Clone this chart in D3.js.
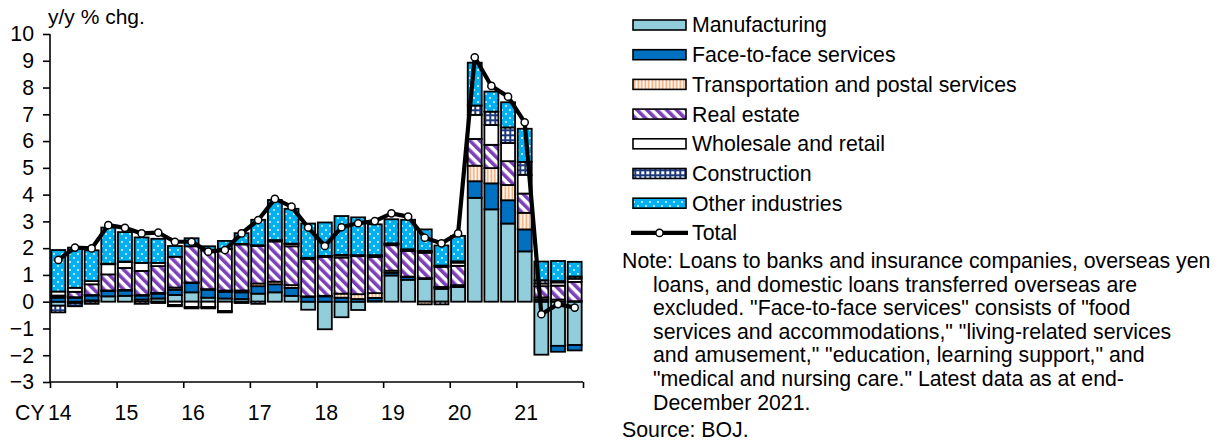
<!DOCTYPE html>
<html>
<head>
<meta charset="utf-8">
<script src="https://cdn.jsdelivr.net/npm/d3@7"></script>
<style>
  html, body { margin: 0; padding: 0; background: #fff; }
  svg { display: block; font-family: "Liberation Sans", Arial, sans-serif; }
</style>
</head>
<body>
<div id="chart"></div>
<script>
// quarterly, CY2014 Q1 .. CY2021 Q4
const years = ['14', '15', '16', '17', '18', '19', '20', '21'];
const quarters = years.flatMap(y => ['Q1', 'Q2', 'Q3', 'Q4'].map(q => y + q));

const manufacturing = [-0.15, -0.05, 0.05, 0.2, 0.22, 0.08, 0.12, 0.25, 0.35, 0.15, 0.12, 0.1, 0.3, 0.35, 0.22, -0.3,
  -1.03, -0.58, -0.31, 0.02, 0.98, 0.82, 0.85, 0.48, 0.55, 3.88, 3.45, 2.92, 1.88, -1.98, -1.65, -1.62];
const faceToFace = [0.15, 0.15, 0.18, 0.2, 0.2, 0.15, 0.18, 0.2, 0.35, 0.3, 0.25, 0.25, 0.28, 0.3, 0.3, 0.18,
  0.2, 0.15, 0.1, 0.12, 0.1, 0.1, 0.03, 0.05, 0.05, 0.62, 0.97, 0.87, 0.82, 0.08, -0.22, -0.2];
const transport = [0.03, 0.02, 0.02, 0.02, 0.02, 0.02, 0.03, 0.08, 0.02, 0.02, 0.05, 0.07, 0.1, 0.1, 0.1, 0.02,
  0.02, 0.15, 0.18, 0.18, 0.08, 0.02, -0.1, 0.02, 0.02, 0.58, 0.57, 0.57, 0.62, 0.08, 0.08, 0.02];
const realEstate = [0.05, 0.2, 0.4, 0.6, 0.82, 0.9, 1.0, 1.15, 1.35, 1.45, 1.55, 1.72, 1.4, 1.5, 1.45, 1.4,
  1.45, 1.35, 1.42, 1.35, 0.95, 0.95, 0.95, 0.75, 0.72, 1.0, 0.87, 0.89, 0.72, 0.42, 0.52, 0.72];
const wholesale = [0.15, 0.15, 0.12, 0.38, 0.22, 0.3, 0.12, -0.12, -0.2, -0.2, -0.35, 0.02, 0.03, 0.03, 0.08, 0.02,
  0.02, 0.08, 0.02, 0.05, 0.05, 0.05, 0.05, 0.05, 0.12, 0.9, 0.74, 0.68, 0.7, 0.1, 0.12, 0.12];
const construction = [-0.25, -0.12, -0.08, 0.02, 0.02, -0.08, -0.05, -0.05, -0.05, -0.05, -0.05, -0.05, -0.08, 0.02, 0.02, 0.02,
  0.02, 0.02, 0.02, 0.02, 0.02, 0.02, 0.02, -0.1, 0.05, 0.35, 0.5, 0.58, 0.48, 0.12, 0.05, 0.08];
const otherInd = [1.55, 1.5, 1.15, 1.35, 1.1, 0.95, 0.9, 0.4, 0.3, 0.15, 0.3, 0.4, 0.95, 1.5, 1.3, 1.28,
  1.25, 1.45, 1.41, 1.15, 0.9, 1.1, 0.8, 0.75, 0.95, 1.6, 0.75, 0.94, 1.24, 0.7, 0.75, 0.55];
const total = [1.56, 2.02, 1.99, 2.86, 2.76, 2.55, 2.58, 2.24, 2.24, 1.87, 1.93, 2.55, 3.05, 3.84, 3.55, 2.77,
  2.08, 2.78, 2.93, 3.01, 3.30, 3.18, 2.39, 2.18, 2.55, 9.13, 8.06, 7.66, 6.70, -0.47, -0.09, -0.22];

const seriesNames = ['Manufacturing', 'Face-to-face services', 'Transportation and postal services',
  'Real estate', 'Wholesale and retail', 'Construction', 'Other industries'];
const seriesValues = [manufacturing, faceToFace, transport, realEstate, wholesale, construction, otherInd];
const seriesFills = ['#92CDDC', '#0070C0', 'url(#pTransport)', 'url(#pRealEstate)', '#FFFFFF', 'url(#pConstruction)', 'url(#pOther)'];

const yTicks = [-3, -2, -1, 0, 1, 2, 3, 4, 5, 6, 7, 8, 9, 10];

const noteLines = [
  'Note: Loans to banks and insurance companies, overseas yen',
  'loans, and domestic loans transferred overseas are',
  'excluded. "Face-to-face services" consists of "food',
  'services and accommodations," "living-related services',
  'and amusement," "education, learning support," and',
  '"medical and nursing care." Latest data as at end-',
  'December 2021.'
];

const W = 1226, H = 443;
const plot = { left: 50, right: 583, top: 34, bottom: 382 };

const svg = d3.select('#chart').append('svg')
  .attr('width', W).attr('height', H);

// fill patterns
const defs = svg.append('defs');

const pT = defs.append('pattern').attr('id', 'pTransport')
  .attr('patternUnits', 'userSpaceOnUse').attr('width', 3.5).attr('height', 4);
pT.append('rect').attr('width', 3.5).attr('height', 4).attr('fill', '#fff');
pT.append('rect').attr('x', 0.5).attr('width', 1.6).attr('height', 4).attr('fill', '#F8A56B');

const pR = defs.append('pattern').attr('id', 'pRealEstate')
  .attr('patternUnits', 'userSpaceOnUse').attr('width', 7).attr('height', 7)
  .attr('patternTransform', 'rotate(-45)');
pR.append('rect').attr('width', 7).attr('height', 7).attr('fill', '#fff');
pR.append('rect').attr('width', 3.6).attr('height', 7).attr('fill', '#7B3FB8');

const pC = defs.append('pattern').attr('id', 'pConstruction')
  .attr('patternUnits', 'userSpaceOnUse').attr('width', 5).attr('height', 5);
pC.append('rect').attr('width', 5).attr('height', 5).attr('fill', '#1F3A7A');
pC.append('rect').attr('x', 1.3).attr('y', 1.3).attr('width', 3).attr('height', 3).attr('fill', '#fff');

const pO = defs.append('pattern').attr('id', 'pOther')
  .attr('patternUnits', 'userSpaceOnUse').attr('width', 8).attr('height', 8);
pO.append('rect').attr('width', 8).attr('height', 8).attr('fill', '#00B0F0');
pO.append('circle').attr('cx', 2).attr('cy', 2).attr('r', 0.9).attr('fill', '#fff');
pO.append('circle').attr('cx', 6).attr('cy', 6).attr('r', 0.9).attr('fill', '#fff');

// scales
const x = d3.scaleBand().domain(quarters).range([plot.left, plot.right]).paddingInner(0.16).paddingOuter(0.08);
const xLin = d3.scaleLinear().domain([0, quarters.length]).range([plot.left, plot.right]);
const y = d3.scaleLinear().domain([-3, 10]).range([plot.bottom, plot.top]);

// stacked bars (positives up, negatives down)
const rows = quarters.map((q, i) => {
  const r = { q };
  seriesNames.forEach((s, k) => { r[s] = seriesValues[k][i]; });
  return r;
});
const stacked = d3.stack().keys(seriesNames).offset(d3.stackOffsetDiverging)(rows);

svg.append('g').selectAll('g')
  .data(stacked)
  .join('g')
  .attr('fill', (d, k) => seriesFills[k])
  .selectAll('rect')
  .data(d => d)
  .join('rect')
  .attr('x', d => x(d.data.q))
  .attr('width', x.bandwidth())
  .attr('y', d => y(Math.max(d[0], d[1])))
  .attr('height', d => Math.abs(y(d[0]) - y(d[1])))
  .attr('stroke', '#000')
  .attr('stroke-width', 1.8);

// axes
const yAxis = svg.append('g')
  .attr('transform', `translate(${plot.left},0)`)
  .call(d3.axisLeft(y).tickValues(yTicks).tickSize(7).tickPadding(9).tickFormat(d3.format('d')));
yAxis.select('.domain').attr('stroke-width', 1.6).attr('d', `M0,${plot.bottom}V${plot.top}`);
yAxis.selectAll('.tick line').attr('stroke-width', 1.6);
yAxis.selectAll('text').attr('font-size', 21.3).attr('fill', '#000');

const xAxis = svg.append('g')
  .attr('transform', `translate(0,${plot.bottom})`)
  .call(d3.axisBottom(xLin).tickValues(d3.range(0, quarters.length + 1, 4)).tickSize(6).tickFormat(''));
xAxis.select('.domain').attr('stroke-width', 1.6).attr('d', `M${plot.left},0H${plot.right}`);
xAxis.selectAll('.tick line').attr('stroke-width', 1.6);

svg.append('g').selectAll('text')
  .data(years)
  .join('text')
  .attr('x', d => x(d + 'Q1') + x.bandwidth() / 2 + 1.5)
  .attr('y', 420)
  .attr('text-anchor', 'middle')
  .attr('font-size', 21.3)
  .text(d => d);
svg.append('text').attr('x', 15).attr('y', 420).attr('font-size', 21.3).text('CY');

svg.append('text').attr('x', 48).attr('y', 24).attr('font-size', 21).text('y/y % chg.');

// total line
const cx = (d, i) => x(quarters[i]) + x.bandwidth() / 2;
svg.append('path')
  .datum(total)
  .attr('fill', 'none')
  .attr('stroke', '#000')
  .attr('stroke-width', 4.2)
  .attr('stroke-linejoin', 'round')
  .attr('d', d3.line().x(cx).y(d => y(d)));
svg.append('g').selectAll('circle')
  .data(total)
  .join('circle')
  .attr('cx', cx)
  .attr('cy', d => y(d))
  .attr('r', 3.6)
  .attr('fill', '#fff')
  .attr('stroke', '#000')
  .attr('stroke-width', 1.5);

// legend
const lg = svg.append('g');
const rowY = i => 25 + i * 29.7;
seriesNames.forEach((s, k) => {
  lg.append('rect')
    .attr('x', 633).attr('y', rowY(k) - 5).attr('width', 53).attr('height', 10)
    .attr('fill', seriesFills[k]).attr('stroke', '#000').attr('stroke-width', 1.6);
  lg.append('text').attr('x', 692).attr('y', rowY(k)).attr('dy', '0.35em')
    .attr('font-size', 21.3).text(s);
});
lg.append('line').attr('x1', 631).attr('x2', 688).attr('y1', rowY(7)).attr('y2', rowY(7))
  .attr('stroke', '#000').attr('stroke-width', 4.2);
lg.append('circle').attr('cx', 659.5).attr('cy', rowY(7)).attr('r', 3.6)
  .attr('fill', '#fff').attr('stroke', '#000').attr('stroke-width', 1.5);
lg.append('text').attr('x', 692).attr('y', rowY(7)).attr('dy', '0.35em')
  .attr('font-size', 21.3).text('Total');

// note
const nt = svg.append('g').attr('font-size', 21.3);
noteLines.forEach((t, i) => {
  nt.append('text').attr('x', i === 0 ? 622 : 653).attr('y', 268 + i * 23.6).text(t);
});
nt.append('text').attr('x', 622).attr('y', 437).text('Source: BOJ.');
</script>
</body>
</html>
